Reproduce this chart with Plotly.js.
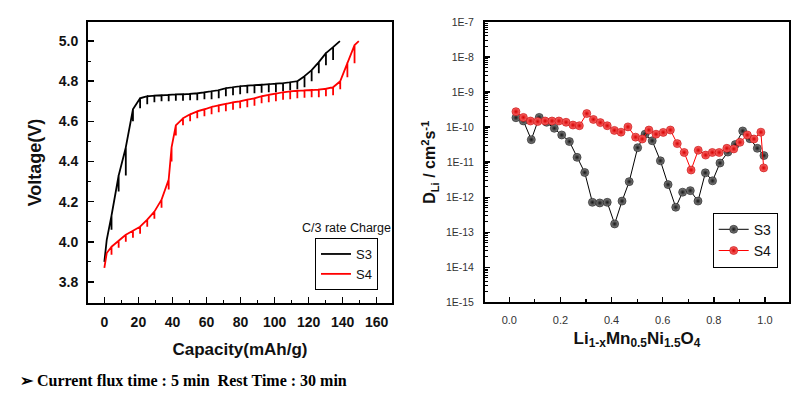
<!DOCTYPE html>
<html>
<head>
<meta charset="utf-8">
<script src="https://cdn.plot.ly/plotly-3.0.1.min.js"></script>
<style>html,body{margin:0;padding:0;background:#fff;}#chart{width:798px;height:405px;}</style>
</head>
<body>
<div id="chart"></div>
<script>
// ---- Left panel: GITT charge curves (capacity mAh/g, voltage V) ----
// pulse-end capacity, voltage at end of pulse, voltage after rest
const s3Cap  = [0, 1.4, 4.2, 8.4, 12.6, 16.8, 21, 25.2, 29.4, 33.6, 37.8, 42, 46.2, 50.4, 54.6, 58.8, 63, 67.2, 71.4, 75.6, 79.8, 84, 88.2, 92.4, 96.6, 100.8, 105, 109.2, 113.4, 117.6, 121.8, 126, 130.2, 134.4, 138.4];
const s3Top  = [3.90, 4.01, 4.13, 4.33, 4.47, 4.66, 4.715, 4.725, 4.728, 4.73, 4.732, 4.734, 4.735, 4.737, 4.74, 4.745, 4.75, 4.755, 4.765, 4.77, 4.775, 4.778, 4.78, 4.782, 4.785, 4.788, 4.79, 4.795, 4.80, 4.825, 4.855, 4.895, 4.94, 4.97, 5.0];
const s3Rest = [null, null, 4.06, 4.25, 4.33, 4.60, 4.665, 4.685, 4.695, 4.70, 4.70, 4.702, 4.703, 4.705, 4.705, 4.71, 4.71, 4.715, 4.725, 4.73, 4.735, 4.74, 4.74, 4.743, 4.745, 4.745, 4.75, 4.755, 4.76, 4.77, 4.80, 4.84, 4.88, 4.905, null];

const s4Cap  = [0, 1.4, 4.2, 8.4, 12.6, 16.8, 21, 25.2, 29.4, 33.6, 37.8, 39.5, 42, 46.2, 50.4, 54.6, 58.8, 63, 67.2, 71.4, 75.6, 79.8, 84, 88.2, 92.4, 96.6, 100.8, 105, 109.2, 113.4, 117.6, 121.8, 126, 130.2, 134.4, 138.6, 142.8, 147, 149.5];
const s4Top  = [3.87, 3.944, 3.975, 4.005, 4.035, 4.055, 4.075, 4.11, 4.15, 4.21, 4.31, 4.47, 4.58, 4.615, 4.635, 4.65, 4.66, 4.672, 4.68, 4.687, 4.695, 4.70, 4.708, 4.715, 4.725, 4.732, 4.738, 4.745, 4.749, 4.752, 4.754, 4.756, 4.758, 4.762, 4.77, 4.80, 4.89, 4.98, 5.0];
const s4Rest = [null, null, 3.935, 3.97, 4.0, 4.02, 4.04, 4.075, 4.115, 4.17, 4.26, 4.40, 4.53, 4.58, 4.60, 4.615, 4.625, 4.635, 4.645, 4.65, 4.658, 4.665, 4.67, 4.678, 4.69, 4.695, 4.70, 4.708, 4.71, 4.715, 4.718, 4.72, 4.72, 4.725, 4.73, 4.76, 4.82, 4.89, null];

// ---- Right panel: diffusion coefficient vs x in Li(1-x)Mn0.5Ni1.5O4 ----
const s3X = [0.026, 0.055, 0.086, 0.117, 0.146, 0.176, 0.205, 0.235, 0.265, 0.295, 0.325, 0.354, 0.383, 0.412, 0.441, 0.469, 0.502, 0.531, 0.559, 0.591, 0.621, 0.651, 0.678, 0.708, 0.738, 0.767, 0.795, 0.824, 0.855, 0.884, 0.913, 0.941, 0.97, 0.996];
const s3D = [1.86e-10, 1.51e-10, 4.4e-11, 1.9e-10, 1.38e-10, 9.3e-11, 6.0e-11, 3.9e-11, 1.38e-11, 5.1e-12, 7.2e-13, 6.9e-13, 7.2e-13, 1.74e-13, 7.8e-13, 2.8e-12, 2.6e-11, 6.3e-11, 4.1e-11, 1.1e-11, 2.3e-12, 5.2e-13, 1.4e-12, 1.55e-12, 7.8e-13, 5.0e-12, 2.95e-12, 9.5e-12, 1.95e-11, 3.2e-11, 7.8e-11, 4.7e-11, 2.5e-11, 1.55e-11];
const s4X = [0.026, 0.055, 0.083, 0.111, 0.14, 0.167, 0.194, 0.222, 0.249, 0.274, 0.303, 0.329, 0.356, 0.383, 0.411, 0.437, 0.464, 0.494, 0.52, 0.546, 0.574, 0.602, 0.63, 0.657, 0.684, 0.711, 0.739, 0.768, 0.794, 0.821, 0.851, 0.878, 0.902, 0.931, 0.957, 0.984, 0.995];
const s4D = [2.77e-10, 1.9e-10, 1.5e-10, 1.45e-10, 1.5e-10, 1.5e-10, 1.5e-10, 1.38e-10, 1.15e-10, 1.1e-10, 2.45e-10, 1.66e-10, 1.35e-10, 1.1e-10, 8.1e-11, 7.2e-11, 1.02e-10, 5.2e-11, 4.6e-11, 8.3e-11, 6.3e-11, 7.1e-11, 8.3e-11, 3.4e-11, 1.9e-11, 6.0e-12, 2.2e-11, 1.6e-11, 1.9e-11, 1.9e-11, 2.5e-11, 2.4e-11, 3.7e-11, 6.0e-11, 4.6e-11, 7.2e-11, 6.9e-12];

const dTickVals = [1e-15, 1e-14, 1e-13, 1e-12, 1e-11, 1e-10, 1e-9, 1e-8, 1e-7];
const dTickText = ['1E-15', '1E-14', '1E-13', '1E-12', '1E-11', '1E-10', '1E-9', '1E-8', '1E-7'];

// build GITT path (pulse end -> relaxed -> back) from the read values
function gittPath(cap, top, rest) {
  const x = [], y = [];
  for (let i = 0; i < cap.length; i++) {
    x.push(cap[i]); y.push(top[i]);
    if (rest[i] !== null) {
      x.push(cap[i]); y.push(rest[i]);
      x.push(cap[i]); y.push(top[i]);
    }
  }
  return {x, y};
}
const p3 = gittPath(s3Cap, s3Top, s3Rest);
const p4 = gittPath(s4Cap, s4Top, s4Rest);

const ARIAL = "'Liberation Sans', Arial, sans-serif";
const NARROW = "'Liberation Sans Narrow', 'Arial Narrow', 'Liberation Sans', sans-serif";

const traces = [
  {x: p3.x, y: p3.y, xaxis: 'x', yaxis: 'y', mode: 'lines', name: 'S3', legend: 'legend',
   line: {color: '#000000', width: 1.8}},
  {x: p4.x, y: p4.y, xaxis: 'x', yaxis: 'y', mode: 'lines', name: 'S4', legend: 'legend',
   line: {color: '#ff0000', width: 1.8}},
  {x: s3X, y: s3D, xaxis: 'x2', yaxis: 'y2', mode: 'lines+markers', name: 'S3', legend: 'legend2',
   line: {color: '#000000', width: 1},
   marker: {symbol: 'circle', size: 8, color: '#8a8a8a', gradient: {type: 'radial', color: '#151515'}, line: {color: '#111', width: 0.6}}},
  {x: s4X, y: s4D, xaxis: 'x2', yaxis: 'y2', mode: 'lines+markers', name: 'S4', legend: 'legend2',
   line: {color: '#ff0000', width: 1},
   marker: {symbol: 'circle', size: 8, color: '#ff7070', gradient: {type: 'radial', color: '#d40000'}, line: {color: '#c00000', width: 0.6}}}
];

const frame = {showline: true, linecolor: '#000', linewidth: 2, mirror: true, showgrid: false, zeroline: false};

const layout = {
  width: 798, height: 405,
  margin: {l: 0, r: 0, t: 0, b: 0},
  paper_bgcolor: '#fff', plot_bgcolor: '#fff',
  showlegend: true,
  xaxis: Object.assign({}, frame, {
    domain: [0.1103, 0.4912], range: [-9.6, 169], anchor: 'y',
    tick0: 0, dtick: 20, ticks: 'inside', ticklen: 6, tickwidth: 1.5, tickcolor: '#000',
    minor: {dtick: 10, ticks: 'inside', ticklen: 3, tickwidth: 1.2, tickcolor: '#000'},
    ticklabelstandoff: 5,
    tickfont: {family: ARIAL, size: 14, color: '#111', weight: 'bold'},
    title: {text: 'Capacity(mAh/g)', font: {family: ARIAL, size: 17, color: '#111', weight: 'bold'}, standoff: 14}
  }),
  yaxis: Object.assign({}, frame, {
    domain: [0.2519, 0.9457], range: [3.695, 5.095], anchor: 'x',
    tick0: 3.8, dtick: 0.2, tickformat: '.1f', ticks: 'inside', ticklen: 6, tickwidth: 1.5, tickcolor: '#000',
    minor: {dtick: 0.1, ticks: 'inside', ticklen: 3, tickwidth: 1.2, tickcolor: '#000'},
    ticklabelstandoff: 5,
    tickfont: {family: ARIAL, size: 14, color: '#111', weight: 'bold'},
    title: {text: 'Voltage(V)', font: {family: ARIAL, size: 18, color: '#111', weight: 'bold'}, standoff: 12}
  }),
  xaxis2: Object.assign({}, frame, {
    domain: [0.6078, 0.9887], range: [-0.095, 1.094], anchor: 'y2',
    tick0: 0, dtick: 0.2, tickformat: '.1f', ticks: 'inside', ticklen: 5, tickwidth: 1.5, tickcolor: '#000',
    minor: {dtick: 0.1, ticks: 'inside', ticklen: 3, tickwidth: 1.2, tickcolor: '#000'},
    ticklabelstandoff: 6,
    tickfont: {family: NARROW, size: 11, color: '#333'},
    title: {text: 'Li<sub>1-x</sub>Mn<sub>0.5</sub>Ni<sub>1.5</sub>O<sub>4</sub>', font: {family: ARIAL, size: 17, color: '#111', weight: 'bold'}, standoff: 7}
  }),
  yaxis2: Object.assign({}, frame, {
    domain: [0.2531, 0.9457], type: 'log', range: [-15, -7], anchor: 'x2',
    tickmode: 'array', tickvals: dTickVals, ticktext: dTickText,
    ticks: 'inside', ticklen: 5, tickwidth: 1.5, tickcolor: '#000',
    minor: {dtick: 'D1', ticks: 'inside', ticklen: 3, tickwidth: 1, tickcolor: '#000'},
    ticklabelstandoff: 7,
    tickfont: {family: NARROW, size: 10.5, color: '#333'},
    title: {text: 'D<sub>Li</sub> / cm<sup>2</sup>s<sup>-1</sup>', font: {family: ARIAL, size: 16, color: '#111', weight: 'bold'}, standoff: 6}
  }),
  legend: {
    x: 0.3947, y: 0.4123, xanchor: 'left', yanchor: 'top',
    bordercolor: '#000', borderwidth: 1, bgcolor: '#fff',
    font: {family: NARROW, size: 13, color: '#111'},
    itemwidth: 30, tracegroupgap: 0
  },
  legend2: {
    x: 0.8931, y: 0.4748, xanchor: 'left', yanchor: 'top',
    bordercolor: '#000', borderwidth: 1, bgcolor: '#fff',
    font: {family: NARROW, size: 14, color: '#111'},
    itemwidth: 30, tracegroupgap: 0
  },
  annotations: [
    {text: 'C/3 rate Charge', xref: 'paper', yref: 'paper', x: 0.4336, y: 0.4378, xanchor: 'center', yanchor: 'middle',
     showarrow: false, font: {family: NARROW, size: 12.5, color: '#111'}},
    {text: '\u27A2 Current flux time : 5 min  Rest Time : 30 min', xref: 'paper', yref: 'paper', x: 0.0226, y: 0.0617,
     xanchor: 'left', yanchor: 'middle', showarrow: false,
     font: {family: "'Liberation Serif', 'Times New Roman', serif", size: 16, color: '#000', weight: 'bold'}}
  ]
};

Plotly.newPlot('chart', traces, layout, {displayModeBar: false, staticPlot: true});
</script>
</body>
</html>
